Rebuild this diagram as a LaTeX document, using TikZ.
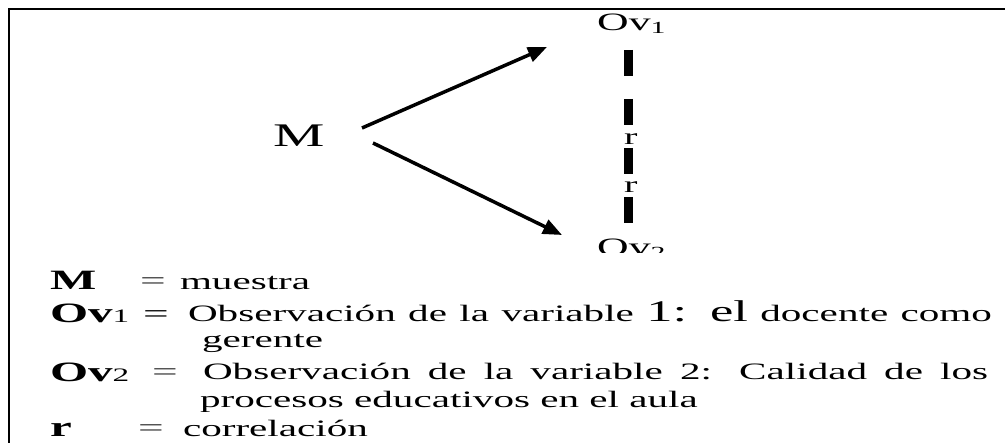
\documentclass[tikz,border=0pt]{standalone}
\usepackage{fontspec}
\setmainfont{Liberation Serif}[FakeStretch=1.75]
\usetikzlibrary{arrows.meta}
\newcommand\fs[1]{\fontsize{#1}{#1}\selectfont}
\tikzset{
  txt/.style={anchor=base west, inner sep=0pt, outer sep=0pt, font=\fs{23.5}},
  lbl/.style={anchor=base west, inner sep=0pt, outer sep=0pt, font=\fs{28}\bfseries},
  eqs/.style={anchor=base west, inner sep=0pt, outer sep=0pt, font=\fs{26}, text=black!75},
  arr/.style={line width=3.5pt, -{Triangle[length=19pt,width=15pt]}},
  corr/.style={line width=9pt, dash pattern=on 26pt off 23pt},
  frame/.style={line width=2pt, line join=miter}
}
\begin{document}
\begin{tikzpicture}[x=1pt,y=-1pt]
\useasboundingbox (0,0) rectangle (1005,443);
\fill[white] (0,0) rectangle (1005,443);
% frame
\draw[frame] (9,443) -- (9,9) -- (1005,9);
% top diagram
\node[anchor=base west, inner sep=0pt, font=\fs{33}] (M) at (273,147) {M};
\node[anchor=base west, inner sep=0pt, font=\fs{25}] (Ov1) at (597,31) {Ov\raisebox{-3pt}{\fs{17}1}};
\begin{scope}
\clip (560,200) rectangle (700,253);
\node[anchor=base west, inner sep=0pt, font=\fs{25}] (Ov2) at (597,256) {Ov\raisebox{-3pt}{\fs{17}2}};
\end{scope}
\coordinate (a1) at (362,128);
\coordinate (b1) at (547,47);
\coordinate (a2) at (373,143);
\coordinate (b2) at (562,235);
\draw[arr] (a1) -- (b1);
\draw[arr] (a2) -- (b2);
\coordinate (d1) at (628,50);
\coordinate (d2) at (628,223);
\draw[corr] (d1) -- (d2);
\node[anchor=base west, inner sep=0pt, font=\fs{23}] (r1) at (624,145) {r};
\node[anchor=base west, inner sep=0pt, font=\fs{23}] (r2) at (624,193) {r};
% legend
\node[lbl] (lM) at (50,290) {M};
\node[eqs] (eqM) at (140,290) {=};
\node[txt] (tM) at (180,290) {muestra};
\node[lbl] (lO1) at (50,323) {Ov{\mdseries\fs{19}1}};
\node[eqs, text=black] (eqO1) at (143,323) {=};
\node[txt] (tO1) at (188,322) {\makebox[804pt][s]{Observación de la variable {\fs{30}1: el} docente como}};
\node[txt] (tg) at (202,348) {gerente};
\node[lbl] (lO2) at (50,382) {Ov{\mdseries\fs{19}2}};
\node[eqs] (eqO2) at (152,381) {=};
\node[txt] (tO2) at (203,380) {\makebox[785pt][s]{Observación de la variable 2: Calidad de los}};
\node[txt] (tp) at (200,408) {procesos educativos en el aula};
\node[lbl] (lr) at (50,437) {r};
\node[eqs] (eqr) at (138,437) {=};
\node[txt] (tr) at (183,437) {correlación};
\end{tikzpicture}
\end{document}
